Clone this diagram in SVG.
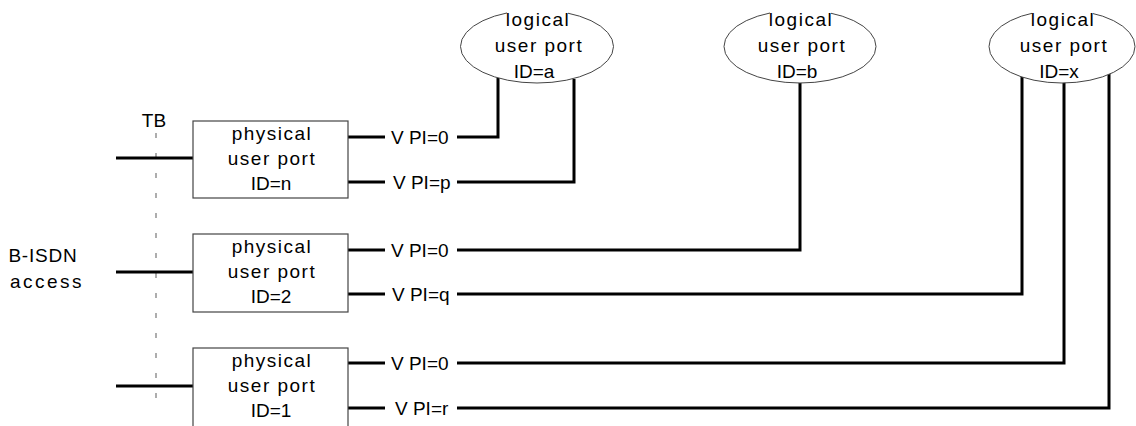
<svg xmlns="http://www.w3.org/2000/svg" width="1136" height="426" viewBox="0 0 1136 426">
<style>
text{font-family:"Liberation Sans",Arial,sans-serif;font-size:19px;fill:#000;text-anchor:middle}
.w{letter-spacing:1.5px}
.id{letter-spacing:0px}
.v{letter-spacing:0px;text-anchor:start}
.box{fill:#fff;stroke:#444;stroke-width:1.2}
.ell{fill:#fff;stroke:#444;stroke-width:1}
.mask{fill:#fff;stroke:none}
.th{fill:none;stroke:#000;stroke-width:3}
.tb{stroke:#777;stroke-width:1.2;stroke-dasharray:5 15}
</style>
<line class="tb" x1="156" y1="133" x2="156" y2="402"/>
<text x="154" y="127">TB</text>
<text x="43" y="262" style="letter-spacing:0.8px">B-ISDN</text>
<text x="47" y="288" style="letter-spacing:2.5px">access</text>
<g id="connectors">
<line class="th" x1="116" y1="158" x2="193" y2="158"/>
<line class="th" x1="116" y1="272" x2="193" y2="272"/>
<line class="th" x1="116" y1="386" x2="193" y2="386"/>
<line class="th" x1="348" y1="137" x2="385" y2="137"/>
<line class="th" x1="348" y1="182" x2="385" y2="182"/>
<line class="th" x1="348" y1="250" x2="385" y2="250"/>
<line class="th" x1="348" y1="294" x2="385" y2="294"/>
<line class="th" x1="348" y1="363" x2="385" y2="363"/>
<line class="th" x1="348" y1="408" x2="385" y2="408"/>
<polyline class="th" points="457,137 498,137 498,78"/>
<polyline class="th" points="457,182 574,182 574,79"/>
<polyline class="th" points="457,250 800,250 800,82"/>
<polyline class="th" points="457,294 1022,294 1022,76"/>
<polyline class="th" points="457,363 1064,363 1064,82"/>
<polyline class="th" points="457,408 1109,408 1109,74"/>
<text class="v" x="391" y="144">V PI=0</text>
<text class="v" x="393" y="189">V PI=p</text>
<text class="v" x="391" y="257">V PI=0</text>
<text class="v" x="392" y="301">V PI=q</text>
<text class="v" x="391" y="370">V PI=0</text>
<text class="v" x="395" y="415">V PI=r</text>
</g>
<g id="phys-n">
<rect class="box" x="193" y="121" width="155" height="77"/>
<text class="w" x="272" y="140">physical</text>
<text class="w" x="272" y="165">user port</text>
<text class="id" x="271" y="190">ID=n</text>
</g>
<g id="phys-2">
<rect class="box" x="193" y="234" width="155" height="78"/>
<text class="w" x="272" y="253">physical</text>
<text class="w" x="272" y="278">user port</text>
<text class="id" x="271" y="303">ID=2</text>
</g>
<g id="phys-1">
<rect class="box" x="193" y="348" width="155" height="90"/>
<text class="w" x="272" y="367">physical</text>
<text class="w" x="272" y="392">user port</text>
<text class="id" x="271" y="417">ID=1</text>
</g>
<g id="log-a">
<ellipse class="ell" cx="537" cy="46.5" rx="76.5" ry="36.5"/>
<rect class="mask" x="507" y="9" width="61" height="19"/>
<text class="w" x="538" y="26">logical</text>
<text class="w" x="539" y="52">user port</text>
<text class="id" x="534" y="78">ID=a</text>
</g>
<g id="log-b">
<ellipse class="ell" cx="800" cy="46.5" rx="76" ry="36.5"/>
<rect class="mask" x="770" y="9" width="61" height="19"/>
<text class="w" x="801" y="26">logical</text>
<text class="w" x="802" y="52">user port</text>
<text class="id" x="797" y="78">ID=b</text>
</g>
<g id="log-x">
<ellipse class="ell" cx="1062" cy="46.5" rx="73" ry="36.5"/>
<rect class="mask" x="1032" y="9" width="61" height="19"/>
<text class="w" x="1063" y="26">logical</text>
<text class="w" x="1064" y="52">user port</text>
<text class="id" x="1059" y="78">ID=x</text>
</g>
</svg>
